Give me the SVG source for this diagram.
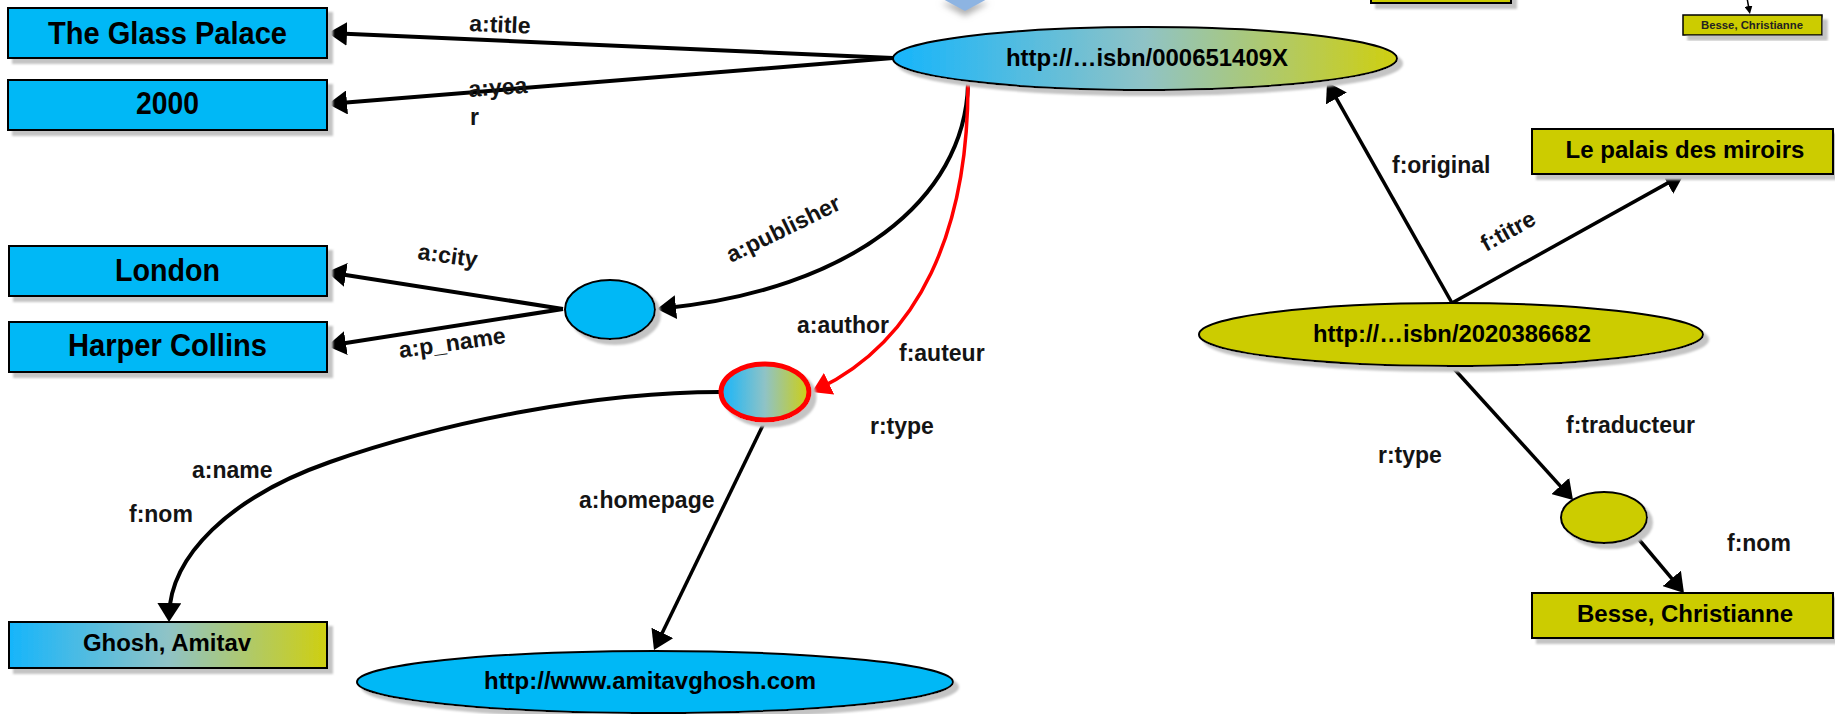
<svg xmlns="http://www.w3.org/2000/svg" width="1835" height="714" viewBox="0 0 1835 714">
<style>
.nt{font-family:"Liberation Sans",Arial,sans-serif;font-weight:bold;fill:#000;text-anchor:middle}
.lb{font-family:"Liberation Sans",Arial,sans-serif;font-weight:bold;font-size:23px;fill:#141414}
.blue{fill:#00b8f6;stroke:#000;stroke-width:2}
.yel{fill:#cccc00;stroke:#000;stroke-width:2}
.grad{fill:url(#bg);stroke:#000;stroke-width:2}
.ln{fill:none;stroke:#000;stroke-width:4;marker-end:url(#ah)}
.red{fill:none;stroke:#ff0000;stroke-width:3.5;marker-end:url(#ahr)}
</style>
<defs>
<linearGradient id="bg" x1="0" y1="0" x2="1" y2="0">
<stop offset="0" stop-color="#16b5fb"/>
<stop offset="0.5" stop-color="#8fc3c6"/>
<stop offset="1" stop-color="#cfcf10"/>
</linearGradient>
<filter id="sh" x="-5%" y="-10%" width="115%" height="140%">
<feOffset in="SourceAlpha" dx="5" dy="5"/>
<feGaussianBlur stdDeviation="1.2" result="b"/>
<feFlood flood-color="#c4c4c4"/>
<feComposite in2="b" operator="in"/>
<feMerge><feMergeNode/><feMergeNode in="SourceGraphic"/></feMerge>
</filter>
<filter id="tsh" x="-50%" y="-50%" width="200%" height="300%">
<feOffset in="SourceAlpha" dx="0" dy="5"/>
<feGaussianBlur stdDeviation="3" result="b"/>
<feFlood flood-color="#b0b0b0"/>
<feComposite in2="b" operator="in"/>
<feMerge><feMergeNode/><feMergeNode in="SourceGraphic"/></feMerge>
</filter>
<marker id="ah" markerUnits="userSpaceOnUse" markerWidth="19" markerHeight="24" refX="13" refY="12" orient="auto">
<path d="M0,0 L19,12 L0,24 z" fill="#000"/>
</marker>
<marker id="ahr" markerUnits="userSpaceOnUse" markerWidth="19" markerHeight="24" refX="13" refY="12" orient="auto">
<path d="M0,0 L19,12 L0,24 z" fill="#ff0000"/>
</marker>
<marker id="ahs" markerUnits="userSpaceOnUse" markerWidth="8" markerHeight="8" refX="5" refY="4" orient="auto">
<path d="M0,0 L8,4 L0,8 z" fill="#000"/>
</marker>
</defs>

<g id="top-arrow">
<polygon points="941,-2 989,-2 965,11" fill="#8db4e2" filter="url(#tsh)"/>
</g>

<g id="connectors">
<path class="ln" d="M893,58 L334,33.3"/>
<path class="ln" d="M893,58 L334,103.5"/>
<path class="ln" d="M563,309 L333,272.9"/>
<path class="ln" d="M563,309 L333,345.1"/>
<path class="ln" d="M968,84 C965,200 850,290 663,308.4"/>
<path class="red" d="M968,84 C968,230 920,340 817.4,389.4"/>
<path class="ln" d="M720,392 C600,392 450,420 330,462 C230,497 170,556 169.1,616"/>
<path class="ln" style="stroke-width:3.5" d="M764,423 L656.6,644.6"/>
<path class="ln" style="stroke-width:3.5" d="M1452,303 L1330,87.2"/>
<path class="ln" style="stroke-width:3.5" d="M1452,303 L1678.8,176.9"/>
<path class="ln" style="stroke-width:3.5" d="M1451.5,366 L1569,495.6"/>
<path class="ln" style="stroke-width:3.5" d="M1636,536 L1680.1,588.4"/>
<path d="M1747,-2 L1749.4,11" fill="none" stroke="#000" stroke-width="1.5" marker-end="url(#ahs)"/>
</g>

<g id="labels">
<text class="lb" x="469" y="31" transform="rotate(2.5 469 31)">a:title</text>
<text class="lb" x="469" y="97" transform="rotate(-4 469 97)">a:yea</text>
<text class="lb" x="470" y="125">r</text>
<text class="lb" x="731" y="263" transform="rotate(-26 731 263)">a:publisher</text>
<text class="lb" x="417" y="259" transform="rotate(8 417 259)">a:city</text>
<text class="lb" x="400" y="358" transform="rotate(-8 400 358)">a:p_name</text>
<text class="lb" x="797" y="333">a:author</text>
<text class="lb" x="899" y="361">f:auteur</text>
<text class="lb" x="870" y="434">r:type</text>
<text class="lb" x="192" y="478">a:name</text>
<text class="lb" x="129" y="522">f:nom</text>
<text class="lb" x="579" y="508">a:homepage</text>
<text class="lb" x="1392" y="173">f:original</text>
<text class="lb" x="1486" y="252" transform="rotate(-29 1486 252)">f:titre</text>
<text class="lb" x="1566" y="433">f:traducteur</text>
<text class="lb" x="1378" y="463">r:type</text>
<text class="lb" x="1727" y="551">f:nom</text>
</g>

<g id="n-glass-palace">
<rect class="blue" x="8" y="8" width="319" height="50" filter="url(#sh)"/>
<text class="nt" x="167.5" y="43.5" font-size="32" textLength="239" lengthAdjust="spacingAndGlyphs">The Glass Palace</text>
</g>
<g id="n-2000">
<rect class="blue" x="8" y="80" width="319" height="50" filter="url(#sh)"/>
<text class="nt" x="167.5" y="114" font-size="32" textLength="63" lengthAdjust="spacingAndGlyphs">2000</text>
</g>
<g id="n-london">
<rect class="blue" x="9" y="246" width="318" height="50" filter="url(#sh)"/>
<text class="nt" x="167.5" y="281" font-size="32" textLength="105" lengthAdjust="spacingAndGlyphs">London</text>
</g>
<g id="n-harper">
<rect class="blue" x="9" y="322" width="318" height="50" filter="url(#sh)"/>
<text class="nt" x="167.5" y="356" font-size="32" textLength="199" lengthAdjust="spacingAndGlyphs">Harper Collins</text>
</g>
<g id="n-publisher">
<ellipse class="blue" cx="610" cy="309.5" rx="45" ry="29.5" filter="url(#sh)"/>
</g>
<g id="n-book-en">
<ellipse class="grad" cx="1145" cy="58.5" rx="252" ry="31.5" filter="url(#sh)"/>
<text class="nt" x="1147" y="66" font-size="23" textLength="282" lengthAdjust="spacingAndGlyphs">http://…isbn/000651409X</text>
</g>
<g id="n-author">
<ellipse cx="765" cy="392" rx="44" ry="28" fill="url(#bg)" stroke="#ff0000" stroke-width="5" filter="url(#sh)"/>
</g>
<g id="n-ghosh">
<rect class="grad" x="9" y="622" width="318" height="46" filter="url(#sh)"/>
<text class="nt" x="167" y="651" font-size="23" textLength="168" lengthAdjust="spacingAndGlyphs">Ghosh, Amitav</text>
</g>
<g id="n-homepage">
<ellipse class="blue" cx="655" cy="682" rx="298" ry="31" filter="url(#sh)"/>
<text class="nt" x="650" y="689" font-size="23" textLength="332" lengthAdjust="spacingAndGlyphs">http://www.amitavghosh.com</text>
</g>
<g id="n-book-fr">
<ellipse class="yel" cx="1451" cy="334.5" rx="252" ry="31.5" filter="url(#sh)"/>
<text class="nt" x="1452" y="342" font-size="23" textLength="278" lengthAdjust="spacingAndGlyphs">http://…isbn/2020386682</text>
</g>
<g id="n-palais">
<rect class="yel" x="1532" y="129" width="301" height="45" filter="url(#sh)"/>
<text class="nt" x="1685" y="158" font-size="24">Le palais des miroirs</text>
</g>
<g id="n-translator">
<ellipse class="yel" cx="1604" cy="517.5" rx="43" ry="25.5" filter="url(#sh)"/>
</g>
<g id="n-besse">
<rect class="yel" x="1532" y="593" width="301" height="45" filter="url(#sh)"/>
<text class="nt" x="1685" y="622" font-size="24">Besse, Christianne</text>
</g>
<g id="n-top-box">
<rect class="yel" x="1371" y="-30" width="140" height="33" filter="url(#sh)"/>
</g>
<g id="n-besse-small">
<rect class="yel" x="1683" y="15" width="139" height="20" style="stroke-width:1.5" filter="url(#sh)"/>
<text class="nt" x="1752" y="29" font-size="11" textLength="102" lengthAdjust="spacingAndGlyphs" style="fill:#222">Besse, Christianne</text>
</g>
</svg>
